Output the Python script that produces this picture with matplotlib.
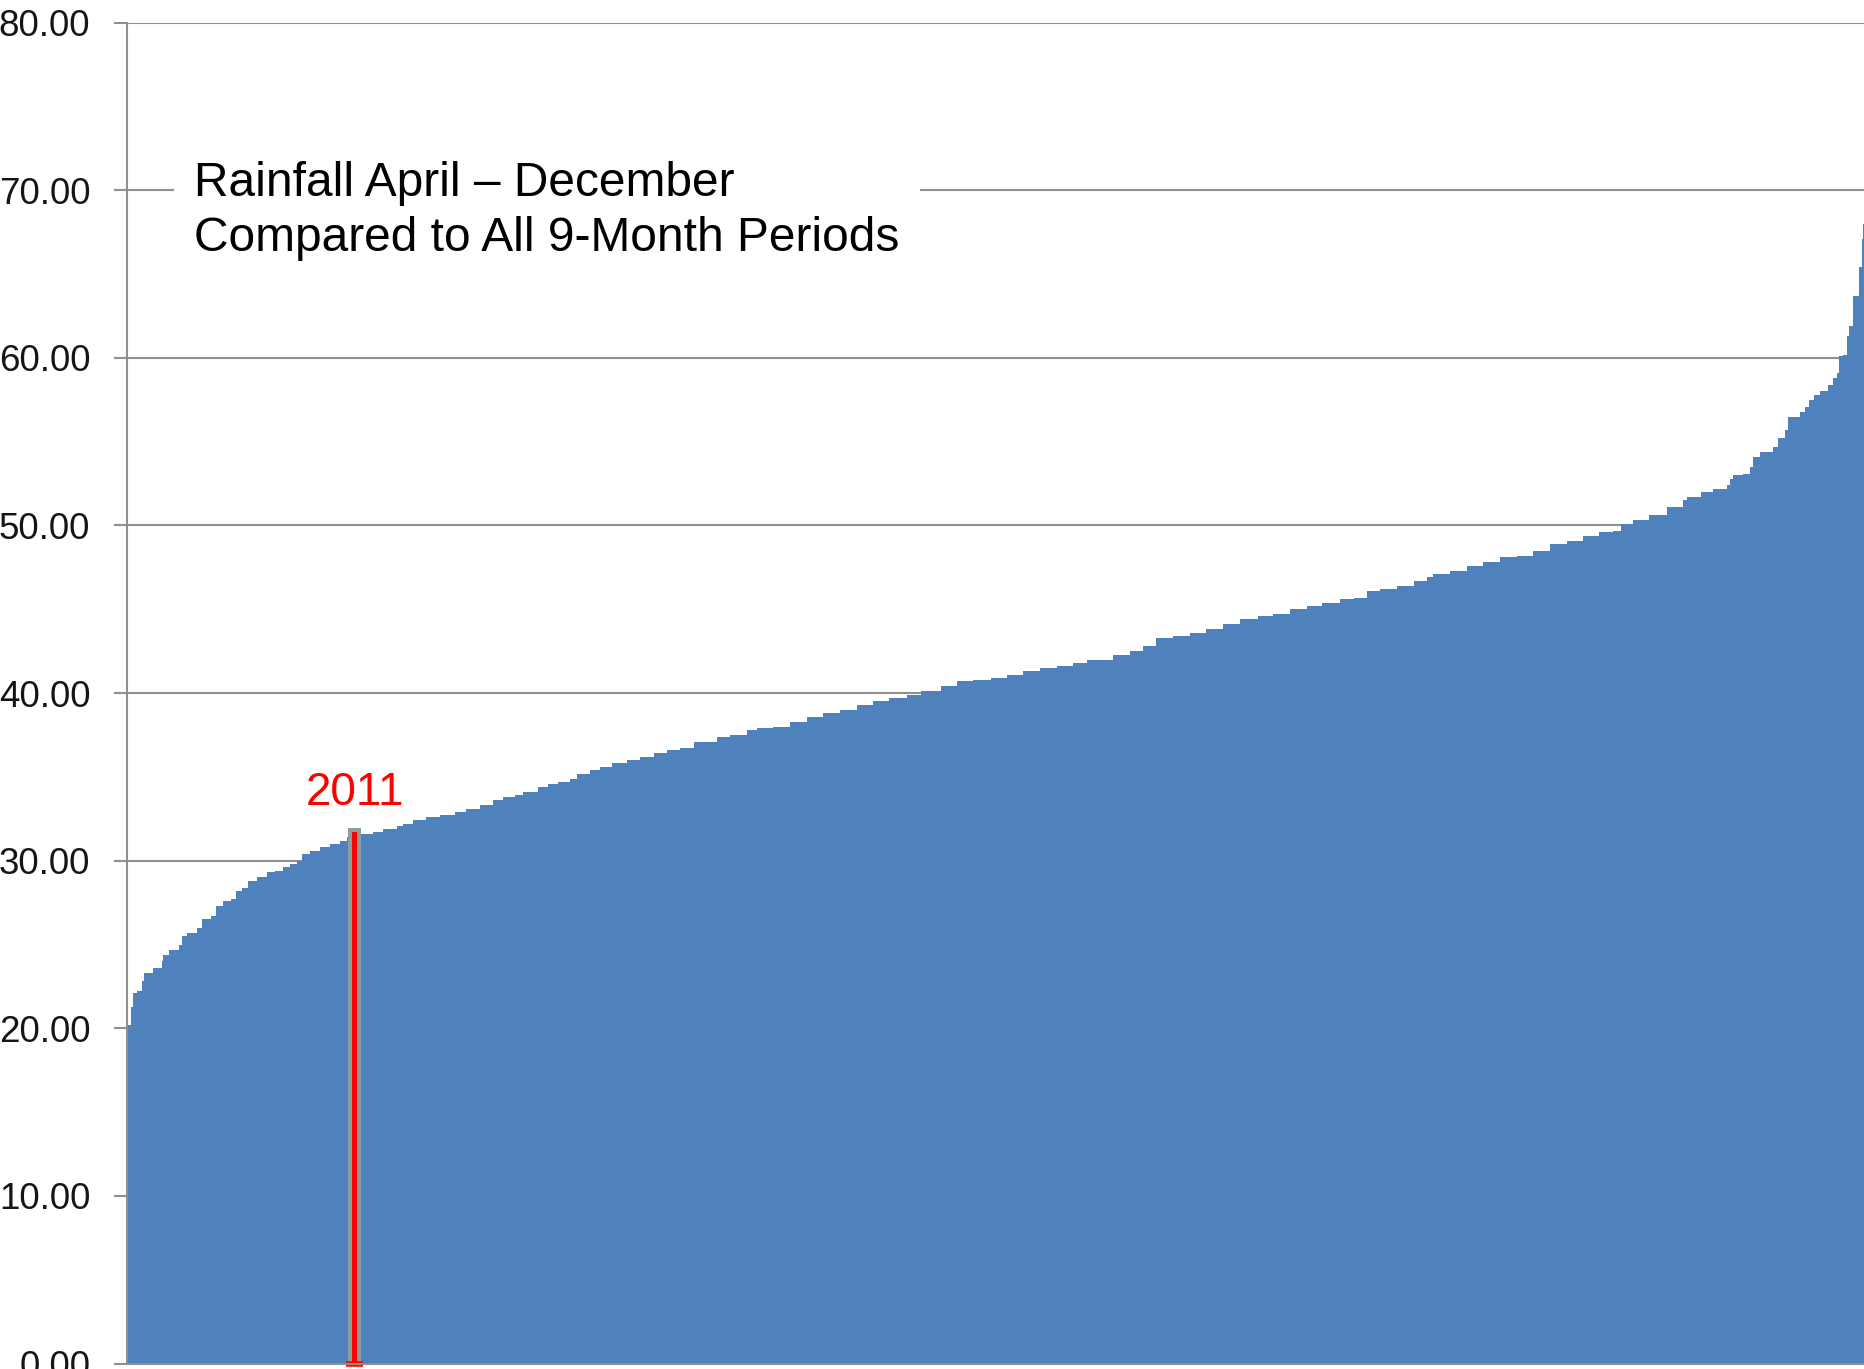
import numpy as np
import matplotlib.pyplot as plt

plt.rcParams['font.family'] = ['Liberation Sans', 'DejaVu Sans']

# sorted 9-month rainfall totals: start rank of each step (out of all periods) and its value
rank = [0, 3, 5, 8, 12, 14, 21, 28, 29, 34, 42, 44, 48, 56, 60, 67, 71, 77, 83, 87,
        92, 97, 104, 112, 119, 125, 131, 136, 140, 147, 155, 163, 171, 176, 182, 189,
        197, 205, 216, 221, 229, 240, 251, 263, 272, 283, 293, 301, 311, 317, 329, 337,
        345, 355, 361, 371, 379, 389, 401, 411, 422, 433, 443, 454, 473, 483, 497, 505,
        518, 531, 545, 558, 571, 585, 598, 611, 625, 636, 652, 665, 678, 692, 705, 718,
        732, 745, 758, 769, 790, 804, 814, 825, 838, 852, 865, 878, 892, 906, 918, 932,
        946, 958, 972, 983, 994, 1004, 1018, 1031, 1042, 1047, 1060, 1074, 1087, 1100,
        1114, 1127, 1140, 1154, 1167, 1180, 1191, 1197, 1207, 1220, 1234, 1247, 1250,
        1261, 1271, 1282, 1285, 1287, 1295, 1301, 1303, 1309, 1319, 1323, 1329, 1331,
        1341, 1345, 1348, 1352, 1357, 1363, 1367, 1370, 1372, 1375, 1378, 1380, 1383,
        1388, 1390, 1391]
rain = [20.2, 21.3, 22.1, 22.2, 22.8, 23.3, 23.6, 24.0, 24.4, 24.7, 25.0, 25.5, 25.7,
        26.0, 26.5, 26.7, 27.3, 27.6, 27.7, 28.2, 28.4, 28.8, 29.0, 29.3, 29.4, 29.6,
        29.8, 30.0, 30.4, 30.6, 30.8, 31.0, 31.2, 31.4, 31.6, 31.6, 31.7, 31.9, 32.1,
        32.2, 32.4, 32.6, 32.7, 32.9, 33.1, 33.3, 33.6, 33.8, 33.9, 34.1, 34.4, 34.6,
        34.7, 34.9, 35.2, 35.4, 35.6, 35.8, 36.0, 36.2, 36.4, 36.6, 36.7, 37.1, 37.4,
        37.5, 37.8, 37.9, 38.0, 38.3, 38.6, 38.8, 39.0, 39.3, 39.5, 39.7, 39.9, 40.1,
        40.4, 40.7, 40.8, 40.9, 41.1, 41.3, 41.5, 41.6, 41.8, 42.0, 42.3, 42.5, 42.8,
        43.3, 43.4, 43.6, 43.8, 44.1, 44.4, 44.6, 44.7, 45.0, 45.2, 45.4, 45.6, 45.7,
        46.1, 46.2, 46.4, 46.7, 46.9, 47.1, 47.3, 47.6, 47.8, 48.1, 48.2, 48.5, 48.9,
        49.1, 49.4, 49.6, 49.7, 50.1, 50.3, 50.6, 51.1, 51.5, 51.7, 52.0, 52.2, 52.4,
        52.8, 53.0, 53.1, 53.5, 54.1, 54.4, 54.7, 55.2, 55.7, 56.5, 56.8, 57.1, 57.5,
        57.8, 58.0, 58.4, 58.8, 59.1, 60.1, 60.2, 61.3, 61.9, 63.7, 65.4, 67.1, 68.0]
n_periods = 1392

year_label = '2011'
year_rank = 182
year_value = 31.6

title = 'Rainfall April \u2013 December\nCompared to All 9-Month Periods'
yticks = np.arange(0, 81, 10)

grid_col = '#8f8f8f'
bar_col = '#4F81BD'

fig = plt.figure(figsize=(18.64, 13.69), dpi=100)
ax = fig.add_axes([127 / 1864, 5.5 / 1369, 1 - 127 / 1864, (1363.5 - 22.7) / 1369])

edges = rank + [n_periods]
ax.stairs(rain, edges, fill=True, color=bar_col, zorder=2)

# highlighted year: grey selection frame + red bar
ax.bar(year_rank + 0.5, year_value + 0.35, width=10.5, color='#8a9ea0', zorder=3)
ax.bar(year_rank + 0.5, year_value + 0.1, width=4, color='red', zorder=4)
ax.plot([year_rank - 6.5, year_rank + 7.5], [0, 0], color='red', lw=4,
        solid_capstyle='butt', clip_on=False, zorder=5)
ax.text(year_rank + 0.5, year_value + 1.7, year_label, color='red', fontsize=33,
        ha='center', va='baseline', zorder=6)

ax.text(0.0386, 71.75, title, fontsize=34.5, ha='left', va='top',
        transform=ax.get_yaxis_transform(), linespacing=1.3, zorder=6,
        bbox=dict(boxstyle='square,pad=0.42', fc='white', ec='none'))

ax.set_xlim(0, n_periods)
ax.set_ylim(0, 80)
ax.set_yticks(yticks)
ax.set_yticklabels(['{:.2f}'.format(v) for v in yticks])
ax.set_xticks([])
ax.set_axisbelow(True)
ax.yaxis.grid(True, color=grid_col, lw=1.5)
ax.tick_params(axis='y', length=9.4, width=1.5, color=grid_col, pad=17,
               labelsize=26.5, labelcolor='#151515')

for s in ['top', 'right']:
    ax.spines[s].set_visible(False)
for s in ['left', 'bottom']:
    ax.spines[s].set_color(grid_col)
    ax.spines[s].set_linewidth(1.5)
    ax.spines[s].set_zorder(7)

fig.savefig('out.png', dpi=100)
